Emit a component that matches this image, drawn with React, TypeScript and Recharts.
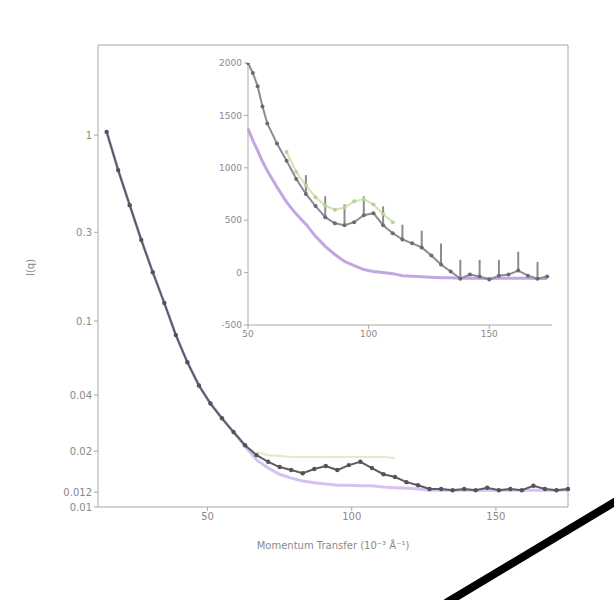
import React from 'react';
import { LineChart, Line, XAxis, YAxis, ErrorBar } from 'recharts';

// ---- main panel (log intensity) ----
const mainX = [15, 19, 23, 27, 31, 35, 39, 43, 47, 51, 55, 59, 63, 67, 71, 75, 79, 83, 87, 91, 95, 99, 103, 107, 111, 115, 119, 123, 127, 131, 135, 139, 143, 147, 151, 155, 159, 163, 167, 171, 175];
const mainMeasured = [1.04, 0.648, 0.42, 0.273, 0.183, 0.125, 0.084, 0.06, 0.045, 0.036, 0.03, 0.0253, 0.0215, 0.019, 0.0175, 0.0164, 0.0158, 0.0152, 0.016, 0.0166, 0.0158, 0.0168, 0.0175, 0.0162, 0.015, 0.0145, 0.0136, 0.0131, 0.0125, 0.0125, 0.0123, 0.0125, 0.0123, 0.0127, 0.0123, 0.0125, 0.0123, 0.013, 0.0125, 0.0123, 0.0125];
const mainModel = [1.04, 0.648, 0.42, 0.273, 0.183, 0.125, 0.084, 0.06, 0.045, 0.036, 0.03, 0.0253, 0.0212, 0.0179, 0.0162, 0.015, 0.0143, 0.0138, 0.0135, 0.0133, 0.0131, 0.0131, 0.013, 0.013, 0.0128, 0.0127, 0.0126, 0.0125, 0.0123, 0.0123, 0.0123, 0.0123, 0.0123, 0.0123, 0.0123, 0.0123, 0.0123, 0.0123, 0.0123, 0.0123, 0.0123];
const mainAlt: (number | null)[] = [null, null, null, null, null, null, null, null, null, null, null, null, null, 0.0198, 0.019, 0.0188, 0.0186, 0.0186, 0.0186, 0.0186, 0.0186, 0.0186, 0.0186, 0.0186, 0.0186, 0.0183, null, null, null, null, null, null, null, null, null, null, null, null, null, null, null];
const mainXTicks = [50, 100, 150];
const mainYTicks = [0.01, 0.012, 0.02, 0.04, 0.1, 0.3, 1];

// ---- inset panel (linear) ----
const insetX = [50, 52, 54, 56, 58, 62, 66, 70, 74, 78, 82, 86, 90, 94, 98, 102, 106, 110, 114, 118, 122, 126, 130, 134, 138, 142, 146, 150, 154, 158, 162, 166, 170, 174];
const insetMeasured = [2000, 1904, 1779, 1586, 1423, 1231, 1067, 894, 750, 635, 529, 471, 452, 481, 548, 567, 452, 375, 317, 279, 240, 163, 77, 10, -58, -19, -38, -67, -29, -19, 19, -29, -58, -38];
const insetUpper = [0, 0, 0, 0, 0, 0, 0, 0, 180, 0, 200, 0, 200, 0, 180, 0, 180, 0, 140, 0, 160, 0, 200, 0, 180, 0, 160, 0, 150, 0, 180, 0, 160, 0];
const insetModel = [1375, 1260, 1163, 1060, 971, 817, 673, 558, 462, 346, 250, 173, 106, 67, 29, 10, 0, -10, -29, -35, -40, -45, -48, -50, -55, -55, -55, -57, -55, -55, -55, -55, -57, -57];
const insetAlt: (number | null)[] = [null, null, null, null, null, null, 1150, 960, 830, 720, 640, 600, 620, 680, 700, 650, 560, 480, null, null, null, null, null, null, null, null, null, null, null, null, null, null, null, null];
const insetXTicks = [50, 100, 150];
const insetYTicks = [-500, 0, 500, 1000, 1500, 2000];

const xTitle = 'Momentum Transfer (10⁻³ Å⁻¹)';
const yTitle = 'I(q)';

const mainData = mainX.map((x, i) => ({ x, measured: mainMeasured[i], model: mainModel[i], alt: mainAlt[i] }));
const insetData = insetX.map((x, i) => ({ x, measured: insetMeasured[i], err: [0, insetUpper[i]], model: insetModel[i], alt: insetAlt[i] }));

const AXIS = '#a9a9a9';
const TEXT = '#8a8a8a';
const FONT = 'DejaVu Sans, sans-serif';

const tickStyle = { fill: TEXT, fontSize: 10, fontFamily: FONT };
const insetTickStyle = { fill: TEXT, fontSize: 9, fontFamily: FONT };

export default function App() {
  return (
    <div style={{ position: 'absolute', left: 0, top: 0, width: 614, height: 600, background: '#fff' }}>
      <LineChart width={614} height={600} data={mainData} margin={{ top: 35, right: 36, bottom: 43, left: 30 }}>
        <XAxis
          xAxisId="b"
          dataKey="x"
          type="number"
          domain={[12, 175]}
          ticks={mainXTicks}
          interval={0}
          height={50}
          stroke={AXIS}
          tick={tickStyle}
          tickSize={4}
          label={{ value: xTitle, position: 'insideBottom', offset: 8, fill: TEXT, fontSize: 10, fontFamily: FONT }}
        />
        <XAxis xAxisId="t" orientation="top" dataKey="x" type="number" domain={[12, 175]} ticks={mainXTicks} height={10} stroke={AXIS} tick={false} tickSize={4} />
        <YAxis
          yAxisId="l"
          scale="log"
          type="number"
          domain={[0.01, 3.05]}
          allowDataOverflow
          ticks={mainYTicks}
          interval={0}
          width={68}
          stroke={AXIS}
          tick={tickStyle}
          tickSize={4}
          label={{ value: yTitle, angle: -90, position: 'insideLeft', offset: 0, fill: TEXT, fontSize: 10, fontFamily: FONT }}
        />
        <YAxis yAxisId="r" orientation="right" scale="log" type="number" domain={[0.01, 3.05]} ticks={mainYTicks} interval={0} width={10} stroke={AXIS} tick={false} tickSize={4} />
        <Line xAxisId="b" yAxisId="l" dataKey="alt" stroke="#dfeccd" strokeWidth={2} dot={false} isAnimationActive={false} connectNulls={false} />
        <Line xAxisId="b" yAxisId="l" dataKey="model" stroke="#d6c2ee" strokeWidth={3} dot={false} isAnimationActive={false} />
        <Line
          xAxisId="b"
          yAxisId="l"
          dataKey="measured"
          stroke="#5e5a66"
          strokeWidth={2}
          dot={{ r: 2.2, fill: '#55525c', stroke: 'none' }}
          isAnimationActive={false}
        />
      </LineChart>

      <div style={{ position: 'absolute', left: 190, top: 55, width: 370, height: 295 }}>
        <LineChart width={370} height={295} data={insetData} margin={{ top: 8, right: 8, bottom: 0, left: 0 }}>
          <XAxis xAxisId="b" dataKey="x" type="number" domain={[50, 176]} ticks={insetXTicks} interval={0} height={25} stroke={AXIS} tick={insetTickStyle} tickSize={4} />
          <XAxis xAxisId="t" orientation="top" dataKey="x" type="number" domain={[50, 176]} ticks={insetXTicks} height={0} stroke={AXIS} tick={false} tickSize={4} />
          <YAxis yAxisId="l" type="number" domain={[-500, 2000]} allowDataOverflow ticks={insetYTicks} interval={0} width={58} stroke={AXIS} tick={insetTickStyle} tickSize={4} />
          <YAxis yAxisId="r" orientation="right" type="number" domain={[-500, 2000]} ticks={insetYTicks} width={0} stroke={AXIS} tick={false} tickSize={4} />
          <Line xAxisId="b" yAxisId="l" dataKey="alt" stroke="#cfe4b4" strokeWidth={2} dot={{ r: 2, fill: '#b8d49a', stroke: 'none' }} isAnimationActive={false} connectNulls={false} />
          <Line xAxisId="b" yAxisId="l" dataKey="model" stroke="#c2a6e2" strokeWidth={3} dot={false} isAnimationActive={false} />
          <Line
            xAxisId="b"
            yAxisId="l"
            dataKey="measured"
            stroke="#8e8a96"
            strokeWidth={2}
            dot={{ r: 2, fill: '#6c6874', stroke: 'none' }}
            isAnimationActive={false}
          >
            <ErrorBar dataKey="err" direction="y" width={0} stroke="#8c8c8c" strokeWidth={2} />
          </Line>
        </LineChart>
      </div>

      {/* diagonal slash across the lower right corner */}
      <svg width={614} height={600} style={{ position: 'absolute', left: 0, top: 0, pointerEvents: 'none' }}>
        <line x1={446} y1={603} x2={618} y2={500} stroke="#000" strokeWidth={8} />
      </svg>
    </div>
  );
}
